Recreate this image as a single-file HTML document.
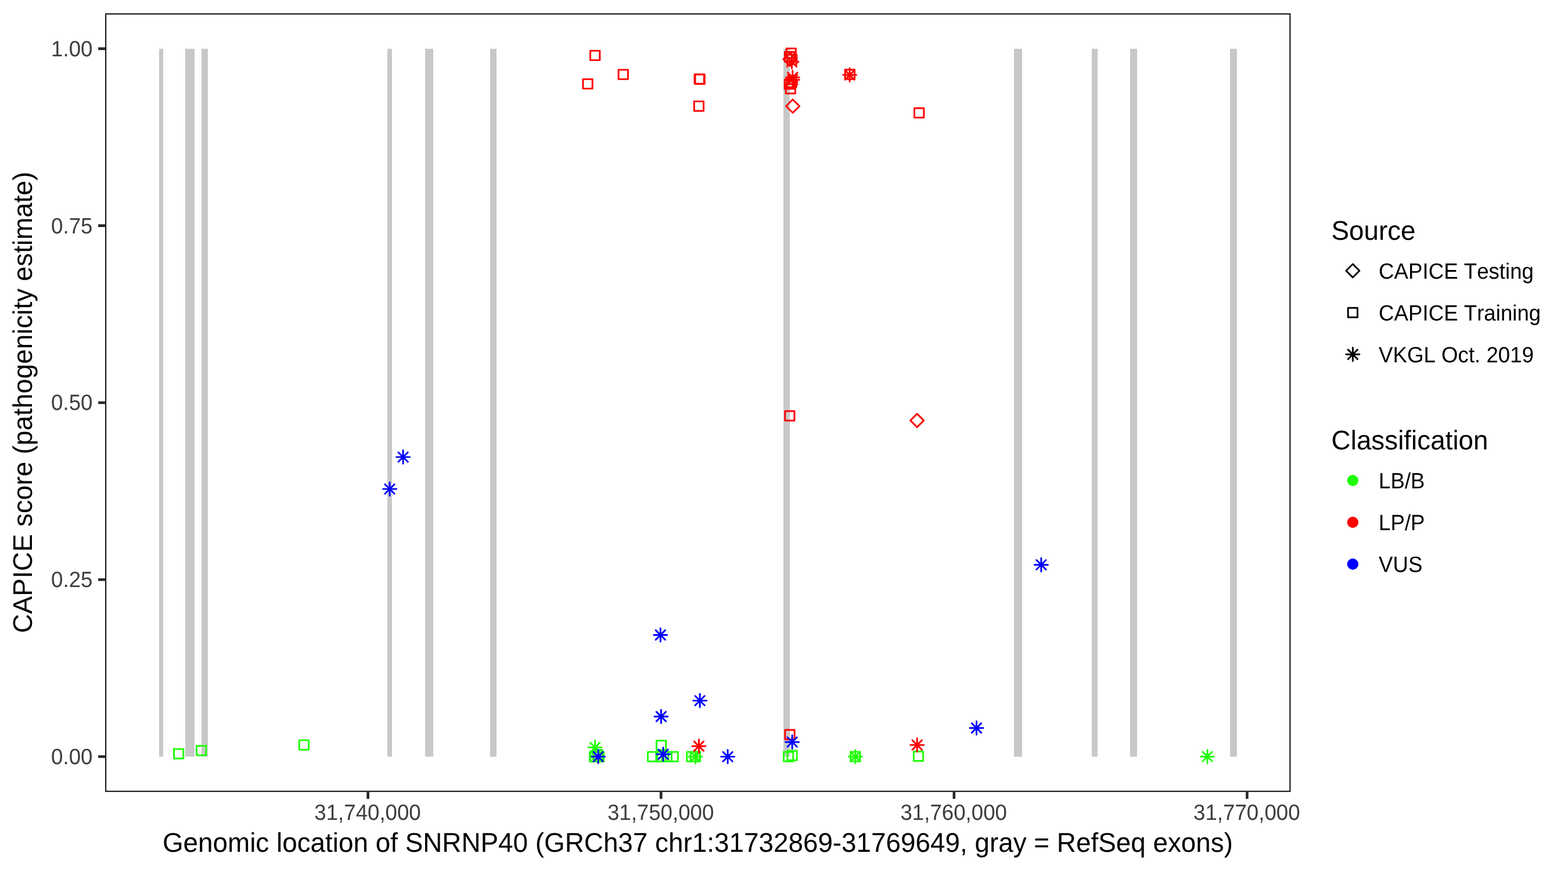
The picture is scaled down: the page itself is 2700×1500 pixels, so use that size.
<!DOCTYPE html>
<html lang="en"><head><meta charset="utf-8"><title>CAPICE score - SNRNP40</title>
<style>
html,body{margin:0;padding:0;background:#fff;}
body{width:2700px;height:1500px;overflow:hidden;}
svg{display:block;}
text{font-family:"Liberation Sans","DejaVu Sans",sans-serif;font-kerning:none;text-rendering:geometricPrecision;}
.at{font-size:36.67px;fill:#3d3d3d;}
.lt{font-size:36.67px;fill:#000;}
.tt{font-size:45.83px;fill:#000;}
.pt{fill:none;stroke-width:2.95;stroke-linecap:round;stroke-linejoin:round;}
</style></head><body>
<svg width="2700" height="1500" viewBox="0 0 2700 1500">
<rect width="2700" height="1500" fill="#ffffff"/>
<g fill="#c8c8c8" shape-rendering="crispEdges">
<rect x="274" y="84" width="7" height="1219"/>
<rect x="319" y="84" width="16" height="1219"/>
<rect x="347" y="84" width="11" height="1219"/>
<rect x="667" y="84" width="8" height="1219"/>
<rect x="732" y="84" width="14" height="1219"/>
<rect x="844" y="84" width="11" height="1219"/>
<rect x="1349" y="84" width="11" height="1219"/>
<rect x="1746" y="84" width="14" height="1219"/>
<rect x="1880" y="84" width="10" height="1219"/>
<rect x="1946" y="84" width="12" height="1219"/>
<rect x="2118" y="84" width="12" height="1219"/>
</g>
<path class="pt" stroke="#21ff06" d="M299.52 1289.96h16.28v16.28h-16.28zM338.44 1284.52h16.28v16.28h-16.28zM515.28 1274.85h16.28v16.28h-16.28zM1015.46 1295.26h16.28v16.28h-16.28zM1016.86 1295.26h16.28v16.28h-16.28zM1020.96 1291.56h16.28v16.28h-16.28zM1023.26 1295.26h16.28v16.28h-16.28zM1115.46 1294.96h16.28v16.28h-16.28zM1130.46 1275.46h16.28v16.28h-16.28zM1129.86 1294.96h16.28v16.28h-16.28zM1140.16 1294.96h16.28v16.28h-16.28zM1151.06 1294.96h16.28v16.28h-16.28zM1182.76 1294.96h16.28v16.28h-16.28zM1189.16 1294.96h16.28v16.28h-16.28zM1349.46 1294.96h16.28v16.28h-16.28zM1355.96 1293.06h16.28v16.28h-16.28zM1464.66 1294.86h16.28v16.28h-16.28zM1573.36 1294.26h16.28v16.28h-16.28z"/>
<path class="pt" stroke="#ff0000" d="M1016.52 87.35h16.28v16.28h-16.28zM1003.89 136.36h16.28v16.28h-16.28zM1065.06 120.11h16.28v16.28h-16.28zM1196.06 127.86h16.28v16.28h-16.28zM1197.06 128.36h16.28v16.28h-16.28zM1195.28 174.63h16.28v16.28h-16.28zM1354.16 83.56h16.28v16.28h-16.28zM1351.46 89.56h16.28v16.28h-16.28zM1355.56 94.26h16.28v16.28h-16.28zM1351.16 136.86h16.28v16.28h-16.28zM1354.86 133.96h16.28v16.28h-16.28zM1353.16 144.76h16.28v16.28h-16.28zM1455.26 119.96h16.28v16.28h-16.28zM1574.53 186.31h16.28v16.28h-16.28zM1351.75 708.05h16.28v16.28h-16.28zM1351.89 1256.91h16.28v16.28h-16.28z"/>
<path class="pt" stroke="#ff0000" d="M1348.99 101.9L1360.5 90.39L1372.01 101.9L1360.5 113.41zM1353.59 182.8L1365.1 171.29L1376.61 182.8L1365.1 194.31zM1567.66 724.11L1579.17 712.6L1590.68 724.11L1579.17 735.62z"/>
<path class="pt" stroke="#21ff06" d="M1016.51 1278.96L1032.79 1295.24M1016.51 1295.24L1032.79 1278.96M1013.14 1287.1L1036.16 1287.1M1024.65 1275.59L1024.65 1298.61M1189.36 1294.86L1205.64 1311.14M1189.36 1311.14L1205.64 1294.86M1185.99 1303L1209.01 1303M1197.5 1291.49L1197.5 1314.51M1464.66 1294.86L1480.94 1311.14M1464.66 1311.14L1480.94 1294.86M1461.29 1303L1484.31 1303M1472.8 1291.49L1472.8 1314.51M2070.91 1294.79L2087.19 1311.07M2070.91 1311.07L2087.19 1294.79M2067.54 1302.93L2090.56 1302.93M2079.05 1291.42L2079.05 1314.44"/>
<path class="pt" stroke="#ff0000" d="M1355.36 98.36L1371.64 114.64M1355.36 114.64L1371.64 98.36M1351.99 106.5L1375.01 106.5M1363.5 94.99L1363.5 118.01M1356.66 125.06L1372.94 141.34M1356.66 141.34L1372.94 125.06M1353.29 133.2L1376.31 133.2M1364.8 121.69L1364.8 144.71M1356.66 129.26L1372.94 145.54M1356.66 145.54L1372.94 129.26M1353.29 137.4L1376.31 137.4M1364.8 125.89L1364.8 148.91M1454.96 120.86L1471.24 137.14M1454.96 137.14L1471.24 120.86M1451.59 129L1474.61 129M1463.1 117.49L1463.1 140.51M1195.26 1276.86L1211.54 1293.14M1195.26 1293.14L1211.54 1276.86M1191.89 1285L1214.91 1285M1203.4 1273.49L1203.4 1296.51M1571.06 1274.86L1587.34 1291.14M1571.06 1291.14L1587.34 1274.86M1567.69 1283L1590.71 1283M1579.2 1271.49L1579.2 1294.51"/>
<path class="pt" stroke="#0000ff" d="M685.94 778.96L702.22 795.24M685.94 795.24L702.22 778.96M682.57 787.1L705.59 787.1M694.08 775.59L694.08 798.61M662.92 834L679.2 850.28M662.92 850.28L679.2 834M659.55 842.14L682.57 842.14M671.06 830.63L671.06 853.65M1129.16 1085.4L1145.44 1101.68M1129.16 1101.68L1145.44 1085.4M1125.79 1093.54L1148.81 1093.54M1137.3 1082.03L1137.3 1105.05M1197.01 1198.46L1213.29 1214.74M1197.01 1214.74L1213.29 1198.46M1193.64 1206.6L1216.66 1206.6M1205.15 1195.09L1205.15 1218.11M1130.28 1225.84L1146.56 1242.12M1130.28 1242.12L1146.56 1225.84M1126.91 1233.98L1149.93 1233.98M1138.42 1222.47L1138.42 1245.49M1784.73 964.55L1801.01 980.83M1784.73 980.83L1801.01 964.55M1781.36 972.69L1804.38 972.69M1792.87 961.18L1792.87 984.2M1673.36 1245.56L1689.64 1261.84M1673.36 1261.84L1689.64 1245.56M1669.99 1253.7L1693.01 1253.7M1681.5 1242.19L1681.5 1265.21M1021.94 1294.93L1038.22 1311.21M1021.94 1311.21L1038.22 1294.93M1018.57 1303.07L1041.59 1303.07M1030.08 1291.56L1030.08 1314.58M1133.86 1290.86L1150.14 1307.14M1133.86 1307.14L1150.14 1290.86M1130.49 1299L1153.51 1299M1142 1287.49L1142 1310.51M1244.96 1294.96L1261.24 1311.24M1244.96 1311.24L1261.24 1294.96M1241.59 1303.1L1264.61 1303.1M1253.1 1291.59L1253.1 1314.61M1355.96 1269.76L1372.24 1286.04M1355.96 1286.04L1372.24 1269.76M1352.59 1277.9L1375.61 1277.9M1364.1 1266.39L1364.1 1289.41"/>
<rect x="182.1" y="24" width="2039.3" height="1338.8" fill="none" stroke="#1c1c1c" stroke-width="2.2"/>
<path d="M169.1 83.85H181M169.1 388.63H181M169.1 693.4H181M169.1 998.17H181M169.1 1302.95H181M633.62 1363.9V1375.8M1138.22 1363.9V1375.8M1642.82 1363.9V1375.8M2147.42 1363.9V1375.8" fill="none" stroke="#262626" stroke-width="4.55"/>
<text class="at" transform="translate(159.4 96.85) scale(1 1.04)" text-anchor="end">1.00</text>
<text class="at" transform="translate(159.4 401.63) scale(1 1.04)" text-anchor="end">0.75</text>
<text class="at" transform="translate(159.4 706.4) scale(1 1.04)" text-anchor="end">0.50</text>
<text class="at" transform="translate(159.4 1011.17) scale(1 1.04)" text-anchor="end">0.25</text>
<text class="at" transform="translate(159.4 1315.95) scale(1 1.04)" text-anchor="end">0.00</text>
<text class="at" transform="translate(633.02 1411.9) scale(1 1.04)" text-anchor="middle">31,740,000</text>
<text class="at" transform="translate(1137.62 1411.9) scale(1 1.04)" text-anchor="middle">31,750,000</text>
<text class="at" transform="translate(1642.22 1411.9) scale(1 1.04)" text-anchor="middle">31,760,000</text>
<text class="at" transform="translate(2146.82 1411.9) scale(1 1.04)" text-anchor="middle">31,770,000</text>
<text class="tt" transform="translate(1201.45 1466.7) scale(1 1.02)" text-anchor="middle">Genomic location of SNRNP40 (GRCh37 chr1:31732869-31769649, gray = RefSeq exons)</text>
<text class="tt" transform="translate(54.7 693) rotate(-90) scale(1 1.015)" text-anchor="middle">CAPICE score (pathogenicity estimate)</text>
<text class="tt" transform="translate(2292.4 412.9) scale(1 1.015)">Source</text>
<path class="pt" stroke="#000" d="M2317.89 466.3L2329.4 454.79L2340.91 466.3L2329.4 477.81zM2321.26 530.16h16.28v16.28h-16.28zM2321.26 602.16L2337.54 618.44M2321.26 618.44L2337.54 602.16M2317.89 610.3L2340.91 610.3M2329.4 598.79L2329.4 621.81"/>
<text class="lt" transform="translate(2374.1 480.2) scale(1 1.04)">CAPICE Testing</text>
<text class="lt" transform="translate(2374.1 552.2) scale(1 1.04)">CAPICE Training</text>
<text class="lt" transform="translate(2374.1 624.4) scale(1 1.04)">VKGL Oct. 2019</text>
<text class="tt" transform="translate(2292.6 773.6) scale(1 1.015)">Classification</text>
<circle cx="2329.4" cy="827.5" r="9.71" fill="#21ff06"/>
<text class="lt" transform="translate(2374.1 840.9) scale(1 1.04)">LB/B</text>
<circle cx="2329.4" cy="899.5" r="9.71" fill="#ff0000"/>
<text class="lt" transform="translate(2374.1 912.9) scale(1 1.04)">LP/P</text>
<circle cx="2329.4" cy="971.5" r="9.71" fill="#0000ff"/>
<text class="lt" transform="translate(2374.1 984.9) scale(1 1.04)">VUS</text>
</svg>
</body></html>
